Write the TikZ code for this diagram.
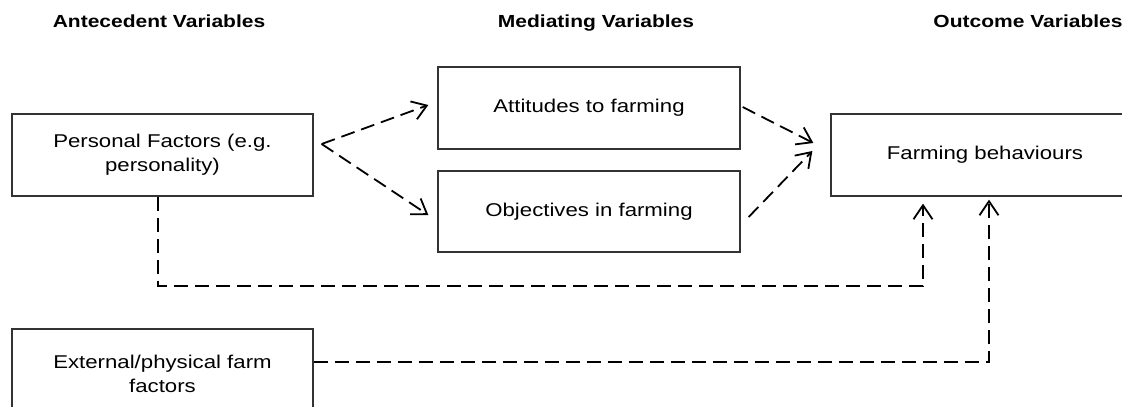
\documentclass[tikz,border=0pt]{standalone}
\usepackage{fontspec}
\setmainfont[FakeStretch=1.2]{Liberation Sans}
\usetikzlibrary{arrows.meta,calc}

\tikzset{
  varbox/.style={draw=black!80, line width=1.3pt, fill=white, align=center,
    inner sep=0pt, font=\fontsize{18.5}{24}\selectfont},
  header/.style={font=\bfseries\fontsize{17.5}{21}\selectfont, inner sep=0pt,
    anchor=base},
  link/.style={draw=black, line width=1.8pt, dash pattern=on 14pt off 7pt,
    -{Straight Barb[length=14pt,width=19pt,line width=1.8pt]}}
}

\begin{document}
\begin{tikzpicture}[x=1pt,y=-1pt]
  \useasboundingbox[fill=white] (0,0) rectangle (1122,407);

  % column headings, sharing one baseline
  \node[header] (hA) at (159,27) {Antecedent Variables};
  \node[header] (hM) at (596,27) {Mediating Variables};
  \node[header] (hO) at (1028,27) {Outcome Variables};

  % variable boxes (the outcome and external boxes run past the page edge)
  \node[varbox, minimum width=301pt, minimum height=82pt] (pers) at (162.5,155)
    {Personal Factors (e.g.\\personality)};
  \node[varbox, minimum width=302pt, minimum height=82pt] (att) at (589,108)
    {Attitudes to farming};
  \node[varbox, minimum width=302pt, minimum height=81pt] (obj) at (589,211.5)
    {Objectives in farming};
  \node[varbox, minimum width=308pt, minimum height=82pt] (farm) at (985,155)
    {Farming behaviours};
  \node[varbox, minimum width=301pt, minimum height=90pt] (ext) at (162.5,374)
    {External/physical farm\\factors};

  % antecedent -> mediating
  \coordinate (pstart) at ($(pers.east)+(8,-11)$);
  \draw[link] (pstart) -- ($(att.west)+(-9,-3)$);
  \draw[link] (pstart) -- ($(obj.west)+(-9,3.5)$);

  % mediating -> outcome
  \draw[link] ($(att.east)+(2,-1)$) -- ($(farm.west)+(-17,-12)$);
  \draw[link] ($(obj.east)+(8,5.5)$) -- ($(farm.west)+(-18,-4)$);

  % direct paths from antecedents to outcome
  \coordinate (pturn) at ($(pers.south)+(-4.5,0)$);
  \coordinate (pdown) at ($(pturn)+(0,89)$);
  \coordinate (ptip) at ($(farm.south)+(-62,7)$);
  \draw[link] (pturn) -- (pdown) -| (ptip);

  \coordinate (etip) at ($(farm.south)+(4,3)$);
  \draw[link] ($(ext.east)+(0,-12)$) -| (etip);
\end{tikzpicture}
\end{document}
